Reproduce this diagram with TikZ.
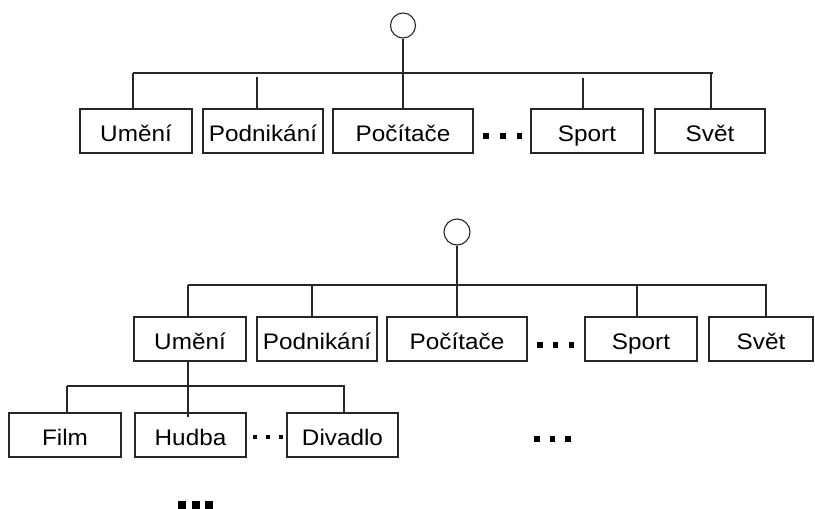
\documentclass[tikz,border=0pt]{standalone}
\usepackage{fontspec}
\setmainfont{Liberation Sans}[FakeStretch=1.08]
\begin{document}
\begin{tikzpicture}[x=1pt,y=-1pt,
  line/.style={draw=black!85, line width=1.1pt},
  box/.style={line, rectangle, inner sep=0pt, minimum height=44pt,
    text height=20pt, text depth=0pt, font=\fontsize{22.5}{27}\selectfont},
  root/.style={line, circle, inner sep=0pt, minimum size=25pt},
  dot/.style={fill=black}]
\useasboundingbox (0,0) rectangle (815,509);

% ---------- upper tree: root and first level ----------
\node[root] (r1) at (403,25.5) {};
\node[box, minimum width=112pt] (um1) at (136,131) {Umění};
\node[box, minimum width=120pt] (po1) at (263,131) {Podnikání};
\node[box, minimum width=140pt] (pc1) at (403,131) {Počítače};
\node[box, minimum width=112pt] (sp1) at (587,131) {Sport};
\node[box, minimum width=110pt] (sv1) at (710,131) {Svět};

\coordinate (b1l) at (133,73);
\coordinate (b1r) at (713,73);
\coordinate (b1po) at (257,77);
\coordinate (b1sp) at (583,78);
\coordinate (b1sv) at (711,73);
\draw[line] (b1l) -- (b1r);
\draw[line] (r1.south) -- (pc1.north);
\draw[line] (b1l) -- (b1l |- um1.north);
\draw[line] (b1po) -- (b1po |- po1.north);
\draw[line] (b1sp) -- (b1sp |- sp1.north);
\draw[line] (b1sv) -- (b1sv |- sv1.north);

\foreach \cx in {486,503,519.5}
  \fill[dot] (\cx-2.75,133.25) rectangle +(5.5,5.5);

% ---------- lower tree: root and first level ----------
\node[root, minimum size=26pt] (r2) at (457,232) {};
\node[box, minimum width=112pt] (um2) at (190,339) {Umění};
\node[box, minimum width=120pt] (po2) at (317,339) {Podnikání};
\node[box, minimum width=140pt] (pc2) at (457,339) {Počítače};
\node[box, minimum width=112pt] (sp2) at (641,339) {Sport};
\node[box, minimum width=104pt] (sv2) at (761,339) {Svět};

\coordinate (b2l) at (188,285);
\coordinate (b2r) at (767,285);
\coordinate (b2po) at (312,285);
\coordinate (b2sp) at (637,285);
\coordinate (b2sv) at (766,285);
\draw[line] (b2l) -- (b2r);
\draw[line] (r2.south) -- (pc2.north);
\draw[line] (b2l) -- (b2l |- um2.north);
\draw[line] (b2po) -- (b2po |- po2.north);
\draw[line] (b2sp) -- (b2sp |- sp2.north);
\draw[line] (b2sv) -- (b2sv |- sv2.north);

\foreach \cx in {540,555.5,571.5}
  \fill[dot] (\cx-2.75,342.25) rectangle +(5.5,5.5);

% ---------- second level under Umění ----------
\node[box, minimum width=112pt] (fi3) at (65,435) {Film};
\node[box, minimum width=111pt] (hu3) at (190.5,435) {Hudba};
\node[box, minimum width=111pt] (di3) at (342.5,435) {Divadlo};

\coordinate (u2down) at (188,417);
\coordinate (b3l) at (67,386);
\coordinate (b3r) at (345,386);
\coordinate (b3di) at (344,386);
\draw[line] (b2l |- um2.south) -- (u2down);
\draw[line] (b3l) -- (b3r);
\draw[line] (b3l) -- (b3l |- fi3.north);
\draw[line] (b3di) -- (b3di |- di3.north);

\foreach \cx in {255,268,281}
  \fill[dot] (\cx-2,435) rectangle +(4,4);
\foreach \cx in {537,552.5,568}
  \fill[dot] (\cx-2.75,436) rectangle +(5.5,5.5);
\foreach \cx in {182,195.5,209}
  \fill[dot] (\cx-4,501) rectangle +(8,8);
\end{tikzpicture}
\end{document}
